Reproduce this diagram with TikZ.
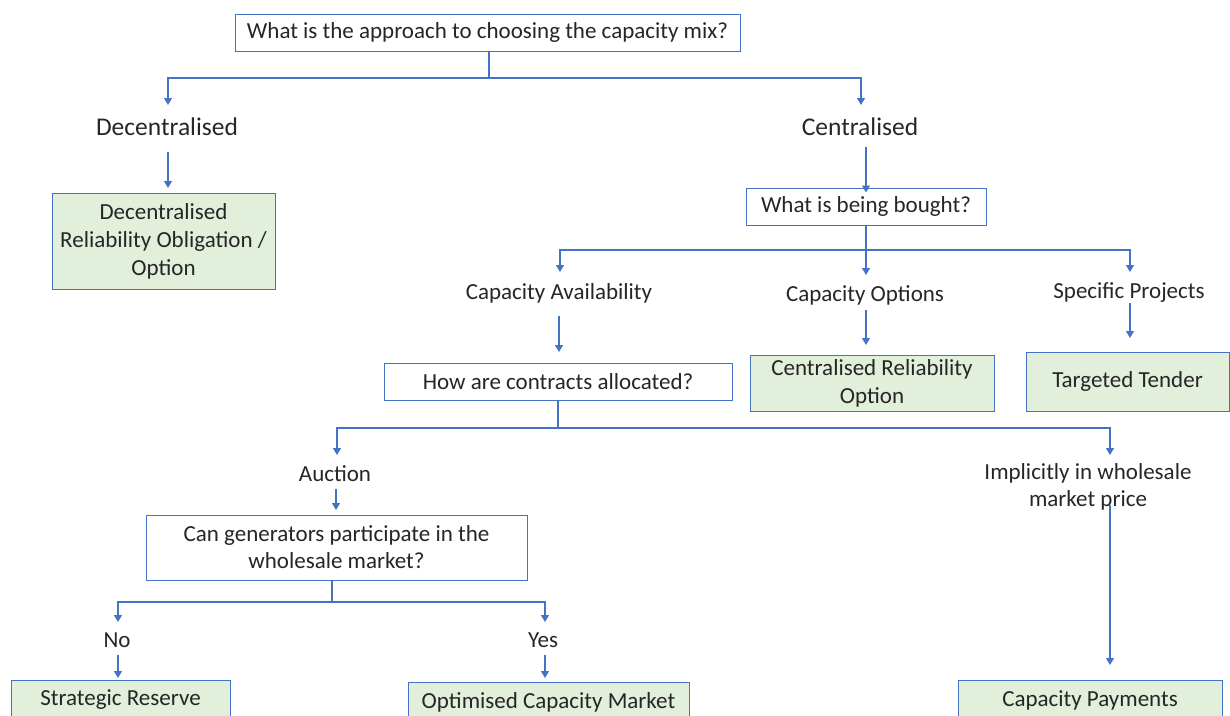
\documentclass[tikz,border=0pt]{standalone}
\usepackage{fontspec}
\setmainfont{Carlito}
\usetikzlibrary{arrows.meta}
\definecolor{lineblue}{HTML}{4472C4}
\definecolor{greenfill}{HTML}{E2EFDA}
\definecolor{txt}{HTML}{262626}
\tikzset{
  qbox/.style={draw=lineblue, line width=1pt, fill=white, align=center, inner sep=0pt, text=txt, font=\fontsize{23}{27}\selectfont},
  gbox/.style={draw=lineblue, line width=1pt, fill=greenfill, align=center, inner sep=0pt, text=txt, font=\fontsize{23}{28}\selectfont},
  lbl/.style={inner sep=0pt, align=center, text=txt, font=\fontsize{23}{27}\selectfont},
  biglbl/.style={inner sep=0pt, text=txt, font=\fontsize{25.5}{28}\selectfont},
  conn/.style={draw=lineblue, line width=1.2pt},
  arr/.style={conn, -{Triangle[width=8pt,length=7pt]}},
}
\begin{document}
\begin{tikzpicture}[x=1pt,y=1pt]
\useasboundingbox (0,0) rectangle (1230,-715);
\clip (0,0) rectangle (1230,-715);
% nodes
\node[qbox, minimum width=505, minimum height=37] (q1) at (487.5,-32.5) {What is the approach to choosing the capacity mix?};
\node[biglbl] (dec) at (167,-127) {Decentralised};
\node[biglbl] (cen) at (860,-127) {Centralised};
\node[gbox, minimum width=223, minimum height=96] (decbox) at (163.5,-241) {Decentralised\\Reliability Obligation /\\Option};
\node[qbox, minimum width=240, minimum height=37] (q2) at (866,-206.5) {What is being bought?};
\node[lbl] (ca) at (559,-293) {Capacity Availability};
\node[lbl] (co) at (865,-295) {Capacity Options};
\node[lbl] (sp) at (1129,-293) {Specific Projects};
\node[qbox, minimum width=348, minimum height=37] (q3) at (558,-381.5) {How are contracts allocated?};
\node[gbox, minimum width=244, minimum height=56] (cro) at (872,-383) {Centralised Reliability\\Option};
\node[gbox, minimum width=203, minimum height=59] (tt) at (1127.5,-381.5) {Targeted Tender};
\node[lbl] (auc) at (335,-474) {Auction};
\node[lbl] (impl) at (1088,-487) {Implicitly in wholesale\\market price};
\node[qbox, minimum width=381, minimum height=65] (q4) at (336.5,-547.5) {Can generators participate in the\\wholesale market?};
\node[lbl] (no) at (117,-640) {No};
\node[lbl] (yes) at (543,-640) {Yes};
\node[gbox, minimum width=219, minimum height=40] (sr) at (120.5,-700) {Strategic Reserve};
\node[gbox, minimum width=281, minimum height=40] (ocm) at (548.5,-702) {Optimised Capacity Market};
\node[gbox, minimum width=264, minimum height=40] (cp) at (1090,-700) {Capacity Payments};
% junctions
\coordinate (j1) at (489,-78);
\coordinate (j2) at (866,-250);
\coordinate (j3) at (558,-428);
\coordinate (j4) at (332,-602);
% level 1
\draw[conn] (j1 |- q1.south) -- (j1);
\draw[arr] (j1) -- (168,-78) -- (168,-105);
\draw[arr] (j1) -- (861,-78) -- (861,-105);
\draw[arr] (168,-152) -- (168,-188);
\draw[arr] (866,-147) -- ([yshift=-5pt]q2.north);
% level 2
\draw[arr] (q2.south) -- (j2) -- (866,-275);
\draw[arr] (j2) -- (560,-250) -- (560,-272);
\draw[arr] (j2) -- (1130,-250) -- (1130,-272);
\draw[arr] (559,-316) -- (559,-352);
\draw[arr] (866,-310) -- (866,-345);
\draw[arr] (1130,-303) -- (1130,-338);
% level 3
\draw[conn] (q3.south) -- (j3);
\draw[arr] (j3) -- (337,-428) -- (337,-455);
\draw[arr] (j3) -- (1110,-428) -- (1110,-455);
\draw[arr] (336,-489) -- (336,-510);
\draw[arr] (1110,-505) -- (1110,-665);
% level 4
\draw[conn] (j4 |- q4.south) -- (j4);
\draw[arr] (j4) -- (118,-602) -- (118,-622);
\draw[arr] (j4) -- (545,-602) -- (545,-622);
\draw[arr] (118,-655) -- (118,-678);
\draw[arr] (545,-655) -- (545,-678);
\end{tikzpicture}
\end{document}
